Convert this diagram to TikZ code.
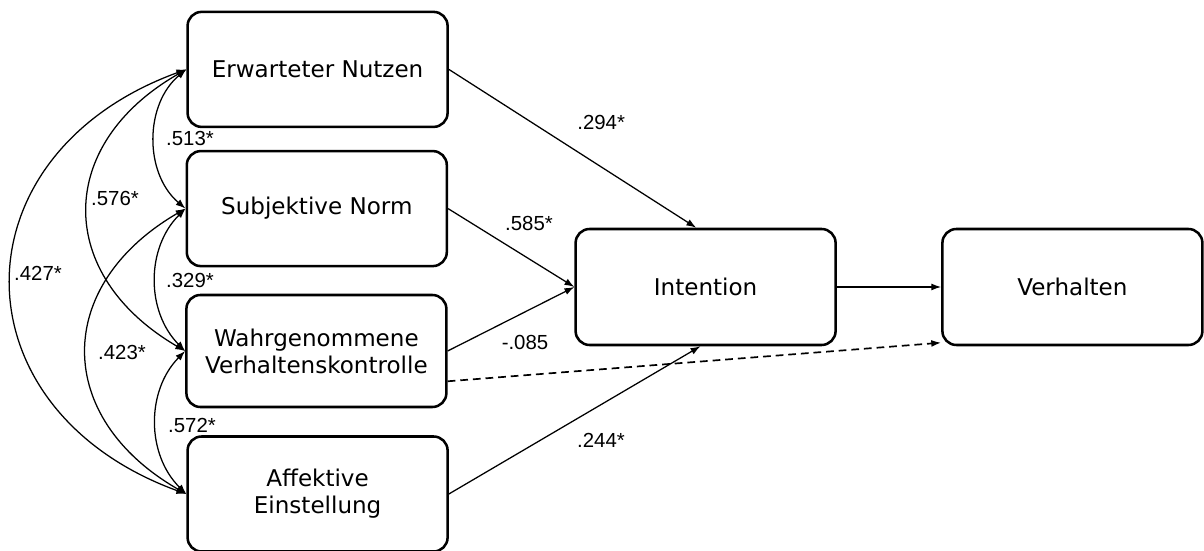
\documentclass[tikz,border=0pt]{standalone}
\usepackage{fontspec}
\setmainfont{DejaVu Sans}
\newfontfamily\coeffont{Liberation Sans}
\usepackage{tikz}
\usetikzlibrary{arrows.meta}

\begin{document}
\begin{tikzpicture}[scale=1, >={Latex[length=7pt,width=5pt]},
        box/.style={draw, line width=1.8pt, rounded corners=0.35cm, minimum width=6.5cm, minimum height=2.875cm, align=center, font=\fontsize{16.4}{19.2}\selectfont},
        effekt/.style={->, line width=0.9pt},
        cov/.style={<->, line width=0.9pt},
        coef/.style={font=\coeffont\fontsize{14.5}{16}\selectfont, inner sep=0pt}]
        \useasboundingbox (0,0) rectangle (30.1,13.775);
        \node[box] (nutzen) at (7.94,12.04) {Erwarteter Nutzen};
        \node[box] (norm) at (7.92,8.56) {Subjektive Norm};
        \node[box, minimum height=2.8cm] (kontrolle) at (7.91,5.0) {Wahrgenommene\\Verhaltenskontrolle};
        \node[box] (affekt) at (7.94,1.425) {Affektive\\Einstellung};
        \node[box, minimum height=2.9cm] (intention) at (17.64,6.6) {Intention};
        \node[box, minimum height=2.9cm] (verhalten) at (26.81,6.6) {Verhalten};
        \draw[cov] (nutzen.west) to[bend right=50] (norm.west);
        \draw[cov] (nutzen.west) to[bend right=60, looseness=1.37] (kontrolle.west);
        \draw[cov] (nutzen.west) to[bend right=70, looseness=1.5] (affekt.west);
        \draw[cov] (norm.west) to[bend right=45] (kontrolle.west);
        \draw[cov] (norm.west) to[bend right=60, looseness=1.37] (affekt.west);
        \draw[cov] (kontrolle.west) to[bend right=45] (affekt.west);
        \draw[effekt] (nutzen.east) -- (intention.99);
        \draw[effekt] (norm.east) -- (intention.west);
        \draw[effekt] (kontrolle.east) -- (intention.west);
        \draw[effekt] (affekt.east) -- (intention.265);
        \draw[effekt] (intention.east) -- (verhalten.west);
        \draw[effekt, line width=1.2pt, dash pattern=on 5.5pt off 3.5pt] (kontrolle.-13) -- (verhalten.203);
        \node[coef] (b-nutzen) at (15.03,10.725) {.294*};
        \node[coef] (b-norm) at (13.225,8.2) {.585*};
        \node[coef] (b-kontrolle) at (13.125,5.225) {-.085};
        \node[coef] (b-affekt) at (15.025,2.775) {.244*};
        \node[coef] (r-nutzen-norm) at (4.75,10.325) {.513*};
        \node[coef] (r-nutzen-kontrolle) at (2.875,8.825) {.576*};
        \node[coef] (r-nutzen-affekt) at (0.95,6.95) {.427*};
        \node[coef] (r-norm-kontrolle) at (4.75,6.775) {.329*};
        \node[coef] (r-norm-affekt) at (3.05,4.975) {.423*};
        \node[coef] (r-kontrolle-affekt) at (4.8,3.15) {.572*};
    \end{tikzpicture}
\end{document}
